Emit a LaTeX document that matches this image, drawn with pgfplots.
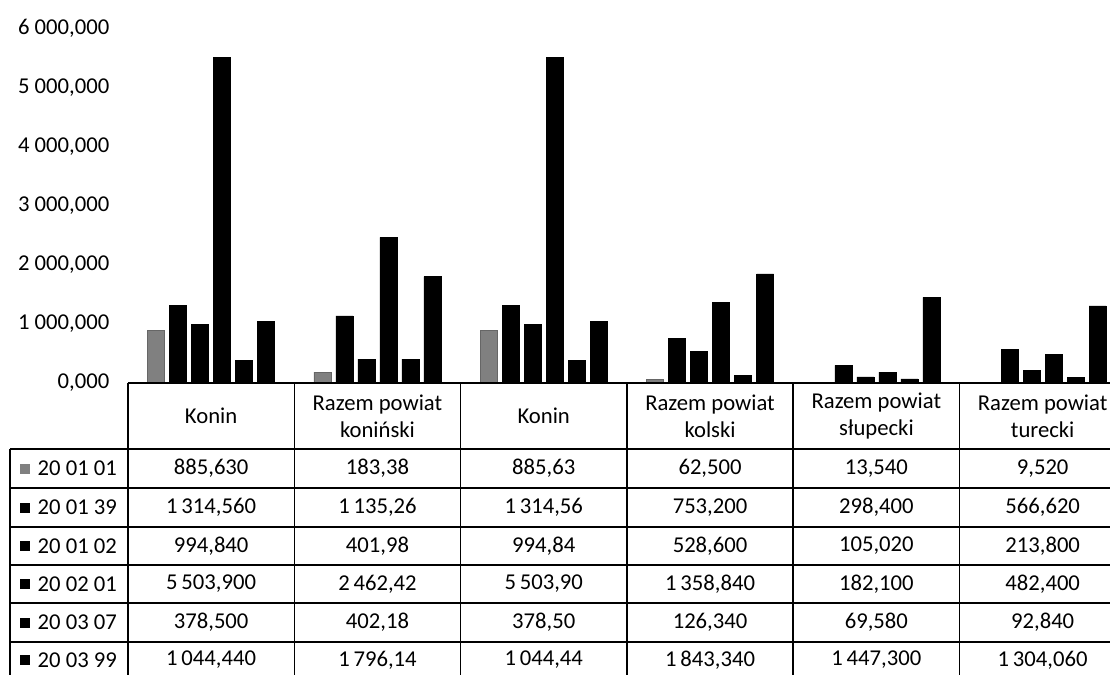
\documentclass[border=0pt]{standalone}
\usepackage{fontspec}
\setmainfont{Carlito}
\usepackage{pgfplots}
\usepackage{pgfplotstable}
\pgfplotsset{compat=1.18}

% odpady wg kodu (Mg), kolumny: kategorie 0..5
\pgfplotstableread{
x  s1      s2       s3      s4       s5      s6
0  885.63  1314.56  994.84  5503.90  378.50  1044.44
1  183.38  1135.26  401.98  2462.42  402.18  1796.14
2  885.63  1314.56  994.84  5503.90  378.50  1044.44
3  62.50   753.20   528.60  1358.84  126.34  1843.34
4  13.54   298.40   105.02  182.10   69.58   1447.30
5  9.52    566.62   213.80  482.40   92.84   1304.06
}\odpady

\newcommand{\tabfont}{\fontsize{17}{20.5}\selectfont}
% jeden wiersz tabeli: y, potem szesc wartosci
\newcommand{\tabrow}[7]{%
  \node at (83.15,#1) {#2};
  \node at (249.45,#1) {#3};
  \node at (415.75,#1) {#4};
  \node at (582.05,#1) {#5};
  \node at (748.35,#1) {#6};
  \node at (914.65,#1) {#7};}
\newcommand{\tabkey}[3]{%
  \fill[#3] (-108,#1-5) rectangle (-98,#1+5);
  \node[anchor=west, inner sep=0pt] at (-91,#1) {#2};}

\begin{document}
\begin{tikzpicture}
\begin{axis}[
  at={(0,0)}, anchor=south west,
  scale only axis,
  width=736.5pt, height=266.25pt,
  xmin=-0.5, xmax=5.405,
  ymin=0, ymax=6000,
  ybar=3.75pt, bar width=12.75pt,
  axis line style={draw=none},
  major tick length=0pt,
  xtick=\empty,
  ytick={0,1000,...,6000},
  scaled y ticks=false,
  yticklabel style={font=\tabfont, xshift=-10.5pt,
    /pgf/number format/fixed,
    /pgf/number format/fixed zerofill,
    /pgf/number format/precision=3,
    /pgf/number format/set decimal separator={,},
    /pgf/number format/set thousands separator={\hspace{0.22em}},
    /pgf/number format/assume math mode=true},
]
\addplot[fill=black!50, draw=black!60] table[x=x, y=s1] {\odpady};
\addplot[fill=black, draw=black] table[x=x, y=s2] {\odpady};
\addplot[fill=black, draw=black] table[x=x, y=s3] {\odpady};
\addplot[fill=black, draw=black] table[x=x, y=s4] {\odpady};
\addplot[fill=black, draw=black] table[x=x, y=s5] {\odpady};
\addplot[fill=black, draw=black] table[x=x, y=s6] {\odpady};
\end{axis}

% tabela danych pod wykresem (jednostki: piksele obrazu, od poczatku osi)
\begin{scope}[x=0.75pt, y=-0.75pt, line width=1.1pt, every node/.style={font=\tabfont}]
  \draw (0,0) -- (982,0);
  \foreach \c in {0,...,5} \draw ({\c*166.3},0) -- ({\c*166.3},292);
  \foreach \r in {66,105,144,182,220,259} \draw (-118,\r) -- (982,\r);
  \draw (-118,66) -- (-118,292);

  % naglowki
  \node at (83.15,33) {Konin};
  \node[align=center] at (249.45,33) {Razem powiat\\koniński};
  \node at (415.75,33) {Konin};
  \node[align=center] at (582.05,33) {Razem powiat\\kolski};
  \node[align=center] at (748.35,33) {Razem powiat\\słupecki};
  \node[align=center] at (914.65,33) {Razem powiat\\turecki};

  % legenda w pierwszej kolumnie
  \tabkey{85.5}{20 01 01}{black!50}
  \tabkey{124.5}{20 01 39}{black}
  \tabkey{163}{20 01 02}{black}
  \tabkey{201}{20 02 01}{black}
  \tabkey{239.5}{20 03 07}{black}
  \tabkey{277}{20 03 99}{black}

  % wartosci
  \tabrow{85.5}{885,630}{183,38}{885,63}{62,500}{13,540}{9,520}
  \tabrow{124.5}{1\,314,560}{1\,135,26}{1\,314,56}{753,200}{298,400}{566,620}
  \tabrow{163}{994,840}{401,98}{994,84}{528,600}{105,020}{213,800}
  \tabrow{201}{5\,503,900}{2\,462,42}{5\,503,90}{1\,358,840}{182,100}{482,400}
  \tabrow{239.5}{378,500}{402,18}{378,50}{126,340}{69,580}{92,840}
  \tabrow{277}{1\,044,440}{1\,796,14}{1\,044,44}{1\,843,340}{1\,447,300}{1\,304,060}

  \pgfresetboundingbox
  \useasboundingbox (-128,-383) rectangle (982,292);
\end{scope}
\end{tikzpicture}
\end{document}
